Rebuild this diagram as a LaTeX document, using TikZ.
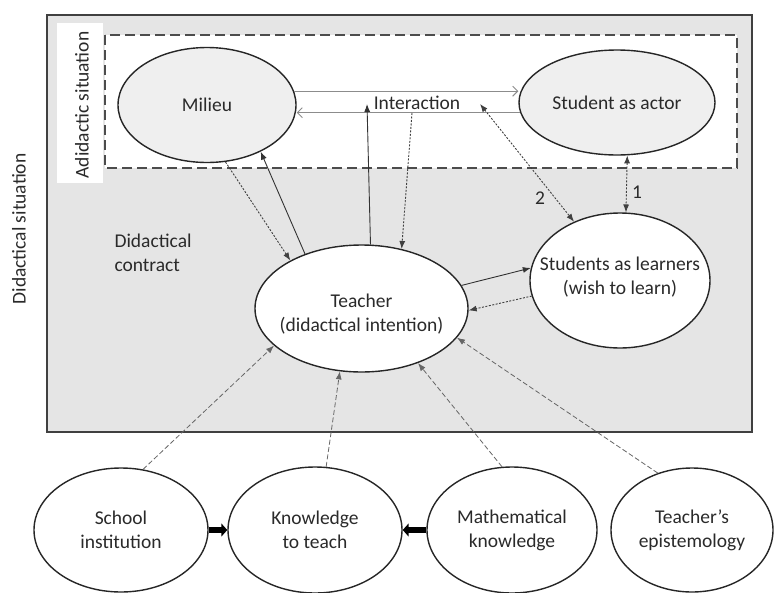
\documentclass[tikz,border=0pt]{standalone}
\usepackage{fontspec}
\setmainfont{Carlito}
\usetikzlibrary{shapes.geometric,arrows.meta}
\definecolor{txtc}{HTML}{2A2A2A}
\definecolor{boxfill}{HTML}{E5E5E5}
\definecolor{ellfill}{HTML}{EFEFEF}
\begin{document}
\begin{tikzpicture}[x=1pt,y=-1pt,
  every node/.style={font=\fontsize{19.5}{24}\selectfont, text=txtc},
  ell/.style={ellipse, draw=black!85, line width=1.4pt, inner sep=0pt, align=center},
  tipf/.tip={Latex[length=8pt,width=6pt]},
  solidarr/.style={draw=black!80, line width=0.9pt, -tipf},
  dotarr/.style={draw=black!75, line width=0.9pt, dash pattern=on 2pt off 1.5pt, -tipf},
  dasharr/.style={draw=black!60, line width=0.8pt, dash pattern=on 5pt off 2.5pt, -tipf},
  intarr/.style={draw=black!45, line width=0.9pt, -{Straight Barb[length=5pt,width=10pt]}},
  thickarr/.style={draw=black, line width=5.5pt, -{Triangle[length=6pt,width=13pt]}}
]
\useasboundingbox (0,0) rectangle (774,592);
% frames
\draw[fill=boxfill, draw=black!75, line width=2.8pt] (47,15) rectangle (752,432);
\fill[white] (57,23) rectangle (103,183);
\draw[fill=white, draw=black!70, line width=1.8pt, dash pattern=on 10pt off 5pt] (105,35) rectangle (737,168);
% ellipses
\node[ell, fill=ellfill, minimum width=178pt, minimum height=115pt] (M) at (207,105) {Milieu};
\node[ell, fill=ellfill, minimum width=196pt, minimum height=105pt] (SA) at (617,102.5) {Student as actor};
\node[ell, fill=white, minimum width=180pt, minimum height=135pt] (SL) at (620,280.5) {};
\node[align=center] (SLt) at (620,277) {Students as learners\\(wish to learn)};
\node[ell, fill=white, minimum width=213pt, minimum height=127pt] (T) at (361.5,308.5) {};
\node[align=center] (Tt) at (361.5,314) {Teacher\\(didactical intention)};
\node[ell, fill=white, minimum width=174pt, minimum height=124pt] (S) at (121,530) {School\\institution};
\node[ell, fill=white, minimum width=174pt, minimum height=126pt] (K) at (315,530) {Knowledge\\to teach};
\node[ell, fill=white, minimum width=170pt, minimum height=126pt] (Ma) at (512,530) {Mathematical\\knowledge};
\node[ell, fill=white, minimum width=162pt, minimum height=124pt] (E) at (692,530) {Teacher’s\\epistemology};
% texts
\node[rotate=90] (DS) at (19,229) {Didactical situation};
\node[rotate=90] (AS) at (82,105) {Adidactic situation};
\node[align=left, anchor=west] (DC) at (111,253) {Didactical\\contract};
\node (I) at (417,103) {Interaction};
\node (n2) at (540,198) {2};
\node (n1) at (637,192) {1};
\coordinate (ia) at (367,104);
\coordinate (ib) at (412,113);
\coordinate (ic) at (480,104);
% interaction lines
\draw[intarr] (M.9) -- (M.9 -| SA.west);
\draw[intarr] (SA.186.7) -- (SA.186.7 -| M.east);
% connectors
\draw[dotarr] (M.288) -- (T.146);
\draw[solidarr] (T.136) -- (M.319.5);
\draw[solidarr] (T.82) -- (ia);
\draw[dotarr] (ib) -- (T.56.6);
\draw[dotarr, tipf-tipf] (ic) -- (SL.128.7);
\draw[dotarr, tipf-tipf] (SA.281.4) -- (SL.85);
\draw[solidarr] (T.13) -- (SL.172.5);
\draw[dotarr] (SL.190.7) -- (T.359);
\draw[dasharr] (S.70) -- (T.203);
\draw[dasharr] (K.80) -- (T.251);
\draw[dasharr] (Ma.99) -- (T.316);
\draw[dasharr] (E.121) -- (T.343);
\draw[thickarr] (S.east) -- (K.west);
\draw[thickarr] (Ma.west) -- (K.east);
\end{tikzpicture}
\end{document}
